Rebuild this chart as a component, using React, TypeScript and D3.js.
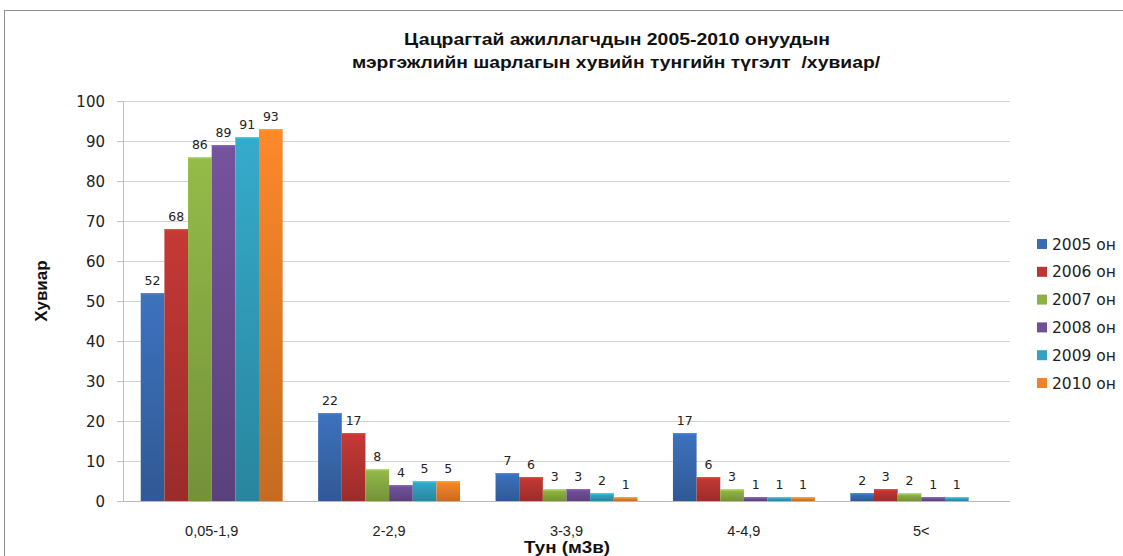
import React from "react";
import * as d3 from "d3";

const categories = ["0,05-1,9", "2-2,9", "3-3,9", "4-4,9", "5<"];
const seriesNames = ["2005 он", "2006 он", "2007 он", "2008 он", "2009 он", "2010 он"];
const v2005 = [52, 22, 7, 17, 2];
const v2006 = [68, 17, 6, 6, 3];
const v2007 = [86, 8, 3, 3, 2];
const v2008 = [89, 4, 3, 1, 1];
const v2009 = [91, 5, 2, 1, 1];
const v2010: (number | null)[] = [93, 5, 1, 1, null];
const seriesValues = [v2005, v2006, v2007, v2008, v2009, v2010];
const yTicks = [0, 10, 20, 30, 40, 50, 60, 70, 80, 90, 100];
const colors = ["#3a6cb4", "#bb3633", "#8db145", "#6f4f96", "#32a2c0", "#f08228"];

const W = 1123, H = 556;
const left = 123, right = 1010, top = 101, bottom = 501;

export default function App() {
  const x0 = d3.scaleBand<string>().domain(categories).range([left, right]).paddingInner(0.2).paddingOuter(0.1);
  const x1 = d3.scaleBand<string>().domain(seriesNames).range([0, x0.bandwidth()]);
  const y = d3.scaleLinear().domain([0, 100]).range([bottom, top]);
  const catStep = (right - left) / categories.length;
  const numFont = "'DejaVu Sans', Verdana, sans-serif";
  const narrowFont = "'Liberation Sans', Arial, sans-serif";

  return (
    <svg width={W} height={H} style={{ position: "absolute", left: 0, top: 0, background: "#fff" }}>
      <defs>
        {colors.map((c, i) => (
          <linearGradient key={i} id={`g${i}`} x1="0" y1="0" x2="0" y2="1">
            <stop offset="0" stopColor={d3.color(c)!.brighter(0.15).formatHex()} />
            <stop offset="1" stopColor={d3.color(c)!.darker(0.55).formatHex()} />
          </linearGradient>
        ))}
      </defs>
      <rect x={4.5} y={10.5} width={W + 10} height={H + 10} fill="#fff" stroke="#8c8c8c" />
      <text x={404} y={45} textLength={426} lengthAdjust="spacingAndGlyphs" fontFamily={narrowFont} fontWeight="bold" fontSize={17} fill="#111">
        Цацрагтай ажиллагчдын 2005-2010 онуудын
      </text>
      <text x={352} y={68} textLength={528} lengthAdjust="spacingAndGlyphs" fontFamily={narrowFont} fontWeight="bold" fontSize={17} fill="#111">
        мэргэжлийн шарлагын хувийн тунгийн түгэлт&#160;&#160;/хувиар/
      </text>
      {yTicks.map((t) => (
        <g key={t}>
          {t > 0 && <line x1={left} x2={right} y1={y(t) + 0.5} y2={y(t) + 0.5} stroke="#d4d4d4" />}
          <line x1={left - 6} x2={left} y1={y(t) + 0.5} y2={y(t) + 0.5} stroke="#c0c0c0" />
          <text x={left - 18} y={y(t) + 5.5} textAnchor="end" fontFamily={numFont} fontSize={15} fill="#222">
            {t}
          </text>
        </g>
      ))}
      <line x1={left + 0.5} x2={left + 0.5} y1={top} y2={bottom} stroke="#c0c0c0" />
      {categories.map((c, ci) => (
        <g key={c}>
          {seriesValues.map((vals, si) => {
            const v = vals[ci];
            if (v === null || v === undefined) return null;
            const bx = (x0(c) as number) + (x1(seriesNames[si]) as number);
            const bw = x1.bandwidth();
            return (
              <g key={si}>
                <rect x={bx} y={y(v)} width={bw} height={bottom - y(v)} fill={`url(#g${si})`} />
                <rect x={bx} y={y(v)} width={bw} height={1.5} fill={d3.color(colors[si])!.brighter(0.8).formatHex()} opacity={0.7} />
                <text x={bx + bw / 2} y={y(v) - 8} textAnchor="middle" fontFamily={numFont} fontSize={12.5} fill="#222">
                  {v}
                </text>
              </g>
            );
          })}
          <text x={left + catStep * ci + catStep / 2} y={536} textAnchor="middle" fontFamily={narrowFont} fontSize={14.5} fill="#222">
            {c}
          </text>
        </g>
      ))}
      <line x1={left} x2={right} y1={bottom + 0.5} y2={bottom + 0.5} stroke="#b8b8b8" />
      <text transform={`translate(47,${(top + bottom) / 2 - 10}) rotate(-90)`} textAnchor="middle" fontFamily={narrowFont} fontWeight="bold" fontSize={17} fill="#111">
        Хувиар
      </text>
      <text x={524} y={553} textLength={86} lengthAdjust="spacingAndGlyphs" fontFamily={narrowFont} fontWeight="bold" fontSize={16} fill="#111">
        Тун (м3в)
      </text>
      {seriesNames.map((s, i) => (
        <g key={s} transform={`translate(1037,${244 + i * 27.8})`}>
          <rect x={0} y={-5} width={10} height={10} fill={colors[i]} />
          <text x={15} y={5.5} fontFamily={numFont} fontSize={15.5} fill="#222">
            {s}
          </text>
        </g>
      ))}
    </svg>
  );
}
